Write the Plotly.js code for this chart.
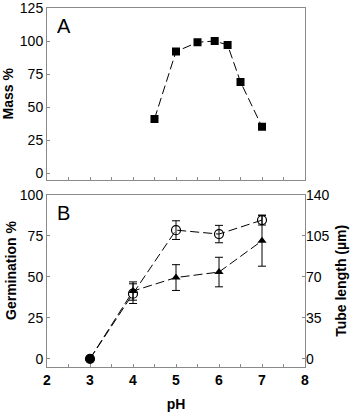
<!DOCTYPE html>
<html>
<head>
<meta charset="utf-8">
<script src="https://cdn.plot.ly/plotly-3.0.1.min.js"></script>
<style>
  html, body { margin: 0; padding: 0; background: #fff; }
  #chart { width: 364px; height: 414px; }
</style>
</head>
<body>
<div id="chart"></div>
<script>
// panel A: mass vs pH
var massPH = [4.5, 5.0, 5.5, 5.9, 6.2, 6.5, 7.0];
var massPct = [41, 92, 99, 100, 97, 69, 35];

// panel B: germination (left axis) and tube length (right axis)
var germPH = [3, 4, 5, 6, 7];
var germPct = [0, 39.7, 78.4, 76, 84.5];
var germErr = [0, 6, 5.7, 5.3, 3];
var tubeLen = [0, 57.8, 69.3, 74, 100.7];
var tubeErr = [0, 7.8, 11, 12.6, 21.7];

var xTicks = [2, 3, 4, 5, 6, 7, 8];
var massTicks = [0, 25, 50, 75, 100, 125];
var germTicks = [0, 25, 50, 75, 100];
var tubeTicks = [0, 35, 70, 105, 140];

var axisGrey = '#8a8a8a';
var dashStyle = '9px,4px';
var fam = 'Liberation Sans, Arial, sans-serif';

var traceMass = {
  x: massPH, y: massPct,
  type: 'scatter', mode: 'lines+markers',
  xaxis: 'x', yaxis: 'y',
  line: {color: '#000', width: 1, dash: dashStyle},
  marker: {symbol: 'square', size: 8, color: '#000'},
  showlegend: false
};

var traceTube = {
  x: germPH, y: tubeLen,
  type: 'scatter', mode: 'lines+markers',
  xaxis: 'x2', yaxis: 'y3',
  line: {color: '#000', width: 1, dash: dashStyle},
  marker: {symbol: ['circle', 'triangle-up', 'triangle-up', 'triangle-up', 'triangle-up'], size: 8, color: '#000'},
  error_y: {type: 'data', array: tubeErr, color: '#000', thickness: 1, width: 4},
  showlegend: false
};

var traceGerm = {
  x: germPH, y: germPct,
  type: 'scatter', mode: 'lines+markers',
  xaxis: 'x2', yaxis: 'y2',
  line: {color: '#000', width: 1, dash: dashStyle},
  marker: {symbol: ['circle', 'circle-open', 'circle-open', 'circle-open', 'circle-open'], size: 9, color: '#000',
           line: {width: 1.2, color: '#000'}},
  error_y: {type: 'data', array: germErr, color: '#000', thickness: 1, width: 4},
  showlegend: false
};

var tickFont = {family: fam, size: 14, color: '#000'};
var titleFont = {family: fam, size: 14, color: '#000', weight: 'bold'};

var baseX = {
  range: [2, 8], showgrid: false, zeroline: false,
  showline: true, linecolor: axisGrey, linewidth: 1, mirror: true,
  ticks: 'inside', ticklen: 3, tickcolor: axisGrey,
  tickvals: xTicks,
  minor: {dtick: 0.5, ticks: 'inside', ticklen: 3, tickcolor: axisGrey}
};

var baseY = {
  showgrid: false, zeroline: false,
  showline: true, linecolor: axisGrey, linewidth: 1, mirror: true,
  ticks: 'inside', ticklen: 3, tickcolor: axisGrey,
  ticklabeloverflow: 'allow'
};

var layout = {
  width: 364, height: 414,
  margin: {l: 47, r: 59, t: 8, b: 47},
  paper_bgcolor: '#fff', plot_bgcolor: '#fff',
  font: tickFont,
  xaxis: Object.assign({}, baseX, {anchor: 'y', showticklabels: false}),
  yaxis: Object.assign({}, baseY, {
    domain: [0.522, 1], range: [-5, 125], tickvals: massTicks,
    title: {text: 'Mass %', font: titleFont, standoff: 7}
  }),
  xaxis2: Object.assign({}, baseX, {
    anchor: 'y2',
    tickfont: {family: fam, size: 14, color: '#000', weight: 'bold'},
    title: {text: 'pH', font: titleFont, standoff: 12}
  }),
  yaxis2: Object.assign({}, baseY, {
    domain: [0, 0.48], range: [-5, 100], tickvals: germTicks
  }),
  yaxis3: Object.assign({}, baseY, {
    overlaying: 'y2', side: 'right', anchor: 'x2',
    range: [-7, 140], tickvals: tubeTicks, showline: false,
    title: {text: 'Tube length (\u00b5m)', font: titleFont, standoff: 7}
  }),
  annotations: [
    {text: 'A', xref: 'paper', yref: 'paper', x: 0.03, y: 0.985, xanchor: 'left', yanchor: 'top',
     showarrow: false, font: {family: fam, size: 20, color: '#000'}},
    {text: 'B', xref: 'paper', yref: 'paper', x: 0.03, y: 0.465, xanchor: 'left', yanchor: 'top',
     showarrow: false, font: {family: fam, size: 20, color: '#000'}},
    {text: 'Germination %', xref: 'paper', yref: 'paper', x: -0.14, y: 0.27, xanchor: 'center', yanchor: 'middle',
     textangle: -90, showarrow: false, font: titleFont}
  ]
};

Plotly.newPlot('chart', [traceMass, traceTube, traceGerm], layout, {displayModeBar: false, staticPlot: true});
</script>
</body>
</html>
